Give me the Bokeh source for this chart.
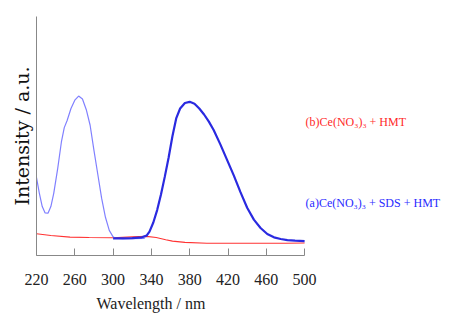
from bokeh.plotting import figure
from bokeh.models import Range1d, FixedTicker, Label, Title
from bokeh.embed import file_html
from bokeh.resources import INLINE

# (a) excitation part (light blue)
wl_a_ex = [220, 223, 226, 229, 232, 235, 238, 242, 246, 249, 252, 256, 260, 264, 268, 272, 276, 280, 284, 288, 292, 296, 300, 302, 310, 320, 333]
int_a_ex = [32.6, 26.0, 20.5, 17.8, 17.7, 20.5, 26.0, 36.0, 47.5, 53.5, 56.5, 61.5, 65.0, 66.7, 65.5, 61.0, 54.5, 44.0, 34.0, 24.0, 16.0, 10.5, 7.8, 7.3, 7.1, 7.1, 7.2]
# (a) emission part (dark blue)
wl_a_em = [300, 310, 320, 330, 335, 338, 342, 346, 350, 354, 358, 362, 366, 370, 375, 380, 385, 390, 395, 400, 405, 412, 419, 426, 433, 440, 447, 454, 461, 468, 475, 482, 490, 500]
int_a_em = [7.2, 7.2, 7.3, 7.6, 8.3, 10.0, 13.8, 19.0, 25.5, 33.0, 41.0, 50.0, 57.5, 61.5, 63.8, 64.3, 63.5, 61.5, 59.0, 56.0, 52.5, 46.5, 40.0, 33.5, 26.5, 20.0, 15.0, 11.5, 9.0, 7.6, 6.9, 6.4, 6.2, 6.0]
# (b) red curve
wl_b = [220, 235, 255, 275, 300, 320, 335, 345, 355, 362, 375, 398, 420, 450, 480, 500]
int_b = [9.1, 8.4, 7.7, 7.5, 7.4, 7.8, 8.0, 7.5, 6.6, 6.0, 5.5, 5.1, 5.1, 5.1, 5.1, 5.2]

x_ticks = [220, 260, 300, 340, 380, 420, 460, 500]
label_b = "(b)Ce(NO\u2083)\u2083 + HMT"
label_a = "(a)Ce(NO\u2083)\u2083 + SDS + HMT"

p = figure(width=442, height=317, output_backend="svg", toolbar_location=None,
           x_range=Range1d(220, 644), y_range=Range1d(0, 100),
           min_border_left=36, min_border_top=16, min_border_right=0, min_border_bottom=62)
p.outline_line_color = None
p.grid.grid_line_color = None
p.background_fill_color = "white"

xa = p.below[0]
xa.bounds = (220, 500)
xa.ticker = FixedTicker(ticks=x_ticks)
xa.major_tick_in = 7
xa.major_tick_out = 0
xa.minor_tick_line_color = None
xa.axis_line_color = "#888888"
xa.major_tick_line_color = "#888888"
xa.major_label_text_font = "Liberation Serif"
xa.major_label_text_font_size = "16px"
xa.major_label_text_color = "#222222"
xa.major_label_standoff = 18

xt = Title(text="Wavelength / nm", align="left", offset=60,
           text_font="Liberation Serif", text_font_size="16px",
           text_font_style="normal", text_color="#222222", standoff=11)
p.add_layout(xt, "below")

p.yaxis.ticker = FixedTicker(ticks=[])
p.yaxis.minor_tick_line_color = None
p.yaxis.axis_line_color = "#888888"
p.yaxis.axis_label = "Intensity / a.u."
p.yaxis.axis_label_text_font = "DejaVu Serif"
p.yaxis.axis_label_text_font_size = "19px"
p.yaxis.axis_label_text_font_style = "normal"
p.yaxis.axis_label_text_color = "#111111"
p.yaxis.axis_label_standoff = 4

p.line(wl_b, int_b, line_color="#ff3333", line_width=1.1)
p.line(wl_a_ex, int_a_ex, line_color="#8080ff", line_width=1.2)
p.line(wl_a_em, int_a_em, line_color="#2a2ae0", line_width=2.2)

p.add_layout(Label(x=501, y=56, text=label_b, text_font="Liberation Serif",
                   text_font_size="12px", text_color="#ff2a2a", text_baseline="middle"))
p.add_layout(Label(x=501, y=22, text=label_a, text_font="Liberation Serif",
                   text_font_size="12px", text_color="#2a2aff", text_baseline="middle"))

open("out.html", "w").write(file_html(p, INLINE))
